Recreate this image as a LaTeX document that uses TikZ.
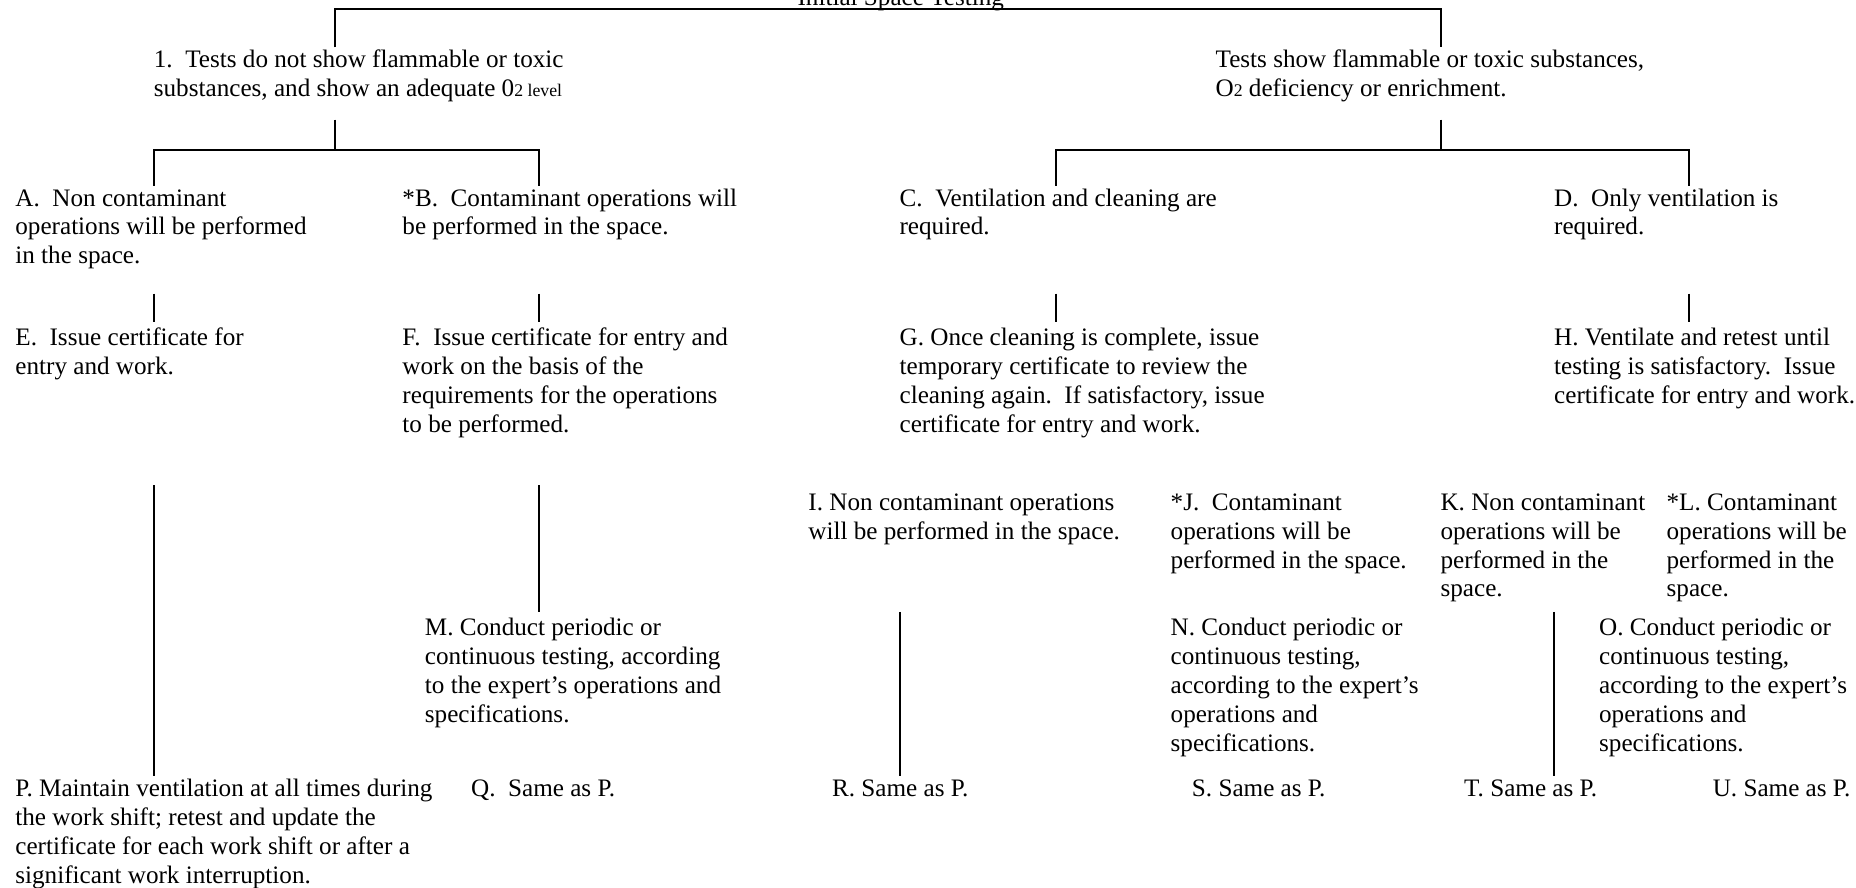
\documentclass[tikz,border=0pt]{standalone}
\usepackage{fontspec}
\setmainfont{Liberation Serif}
\newcommand\fs{\fontsize{12.75}{14.64}\selectfont}
\newcommand\subsz{\fontsize{9}{10}\selectfont}
\frenchspacing
\begin{document}
\begin{tikzpicture}[x=0.6pt,y=-0.6pt,
  txt/.style={anchor=north west, inner sep=0pt, outer sep=0pt, align=left, font=\fs},
  tree/.style={line width=1pt, black},
  stub/.style={line width=1pt, black}]
\useasboundingbox (0,0) rectangle (1568,750);

% title
\node[font=\fs, anchor=base, inner sep=0pt] (title) at (761,4.5) {Initial Space Testing};

% level 1
\node[txt] (n1) at (130,40) {\strut 1.\ \ Tests do not show flammable or toxic\\substances, and show an adequate 0{\subsz 2 level}};
\node[txt] (n2) at (1027,40) {\strut Tests show flammable or toxic substances,\\O{\subsz 2} deficiency or enrichment.};

% level 2
\node[txt] (A) at (13,157) {\strut A.\ \ Non contaminant\\operations will be performed\\in the space.};
\node[txt] (B) at (340,157) {\strut *B.\ \ Contaminant operations will\\be performed in the space.};
\node[txt] (C) at (760,157) {\strut C.\ \ Ventilation and cleaning are\\required.};
\node[txt] (D) at (1313,157) {\strut D.\ \ Only ventilation is\\required.};

% level 3
\node[txt] (E) at (13,275) {\strut E.\ \ Issue certificate for\\entry and work.};
\node[txt] (F) at (340,275) {\strut F.\ \ Issue certificate for entry and\\work on the basis of the\\requirements for the operations\\to be performed.};
\node[txt] (G) at (760,275) {\strut G. Once cleaning is complete, issue\\temporary certificate to review the\\cleaning again.\ \ If satisfactory, issue\\certificate for entry and work.};
\node[txt] (H) at (1313,275) {\strut H. Ventilate and retest until\\testing is satisfactory.\ \ Issue\\certificate for entry and work.};

% level 4
\node[txt] (I) at (683,414) {\strut I. Non contaminant operations\\will be performed in the space.};
\node[txt] (J) at (989,414) {\strut *J.\ \ Contaminant\\operations will be\\performed in the space.};
\node[txt] (K) at (1217,414) {\strut K. Non contaminant\\operations will be\\performed in the\\space.};
\node[txt] (L) at (1408,414) {\strut *L. Contaminant\\operations will be\\performed in the\\space.};

% level 5
\node[txt] (M) at (359,520) {\strut M. Conduct periodic or\\continuous testing, according\\to the expert’s operations and\\specifications.};
\node[txt] (N) at (989,520) {\strut N. Conduct periodic or\\continuous testing,\\according to the expert’s\\operations and\\specifications.};
\node[txt] (O) at (1351,520) {\strut O. Conduct periodic or\\continuous testing,\\according to the expert’s\\operations and\\specifications.};

% level 6
\node[txt] (P) at (13,656) {\strut P. Maintain ventilation at all times during\\the work shift; retest and update the\\certificate for each work shift or after a\\significant work interruption.};
\node[txt] (Q) at (398,656) {\strut Q.\ \ Same as P.};
\node[txt] (R) at (703,656) {\strut R. Same as P.};
\node[txt] (S) at (1007,656) {\strut S. Same as P.};
\node[txt] (T) at (1237,656) {\strut T. Same as P.};
\node[txt] (U) at (1447,656) {\strut U. Same as P.};

% junction coordinates
\coordinate (tl) at (283,8);
\coordinate (tr) at (1217,8);
\coordinate (l1) at (283,101);
\coordinate (lb) at (283,127);
\coordinate (r1) at (1217,101);
\coordinate (rb) at (1217,127);
\coordinate (a1) at (130,127);
\coordinate (b1) at (455,127);
\coordinate (c1) at (892,127);
\coordinate (d1) at (1427,127);
\coordinate (a2) at (130,248);
\coordinate (b2) at (455,248);
\coordinate (c2) at (892,248);
\coordinate (d2) at (1427,248);
\coordinate (e1) at (130,410);
\coordinate (f1) at (455,410);
\coordinate (i1) at (760,517);
\coordinate (k1) at (1313,517);

% top bracket
\draw[tree] (tl |- n1.north) -- (tl) -- (tr) -- (tr |- n2.north);
% left bracket
\draw[tree] (l1) -- (lb);
\draw[tree] (a1 |- A.north) -- (a1) -- (b1) -- (b1 |- B.north);
% right bracket
\draw[tree] (r1) -- (rb);
\draw[tree] (c1 |- C.north) -- (c1) -- (d1) -- (d1 |- D.north);
% stubs between level 2 and 3
\draw[stub] (a2) -- ([yshift=2pt]a2 |- E.north);
\draw[stub] (b2) -- ([yshift=2pt]b2 |- F.north);
\draw[stub] (c2) -- ([yshift=2pt]c2 |- G.north);
\draw[stub] (d2) -- ([yshift=2pt]d2 |- H.north);
% long verticals
\draw[stub] (e1) -- (e1 |- P.north);
\draw[stub] (f1) -- ([yshift=1.8pt]f1 |- M.north);
\draw[stub] (i1) -- (i1 |- R.north);
\draw[stub] (k1) -- (k1 |- T.north);
\end{tikzpicture}
\end{document}
